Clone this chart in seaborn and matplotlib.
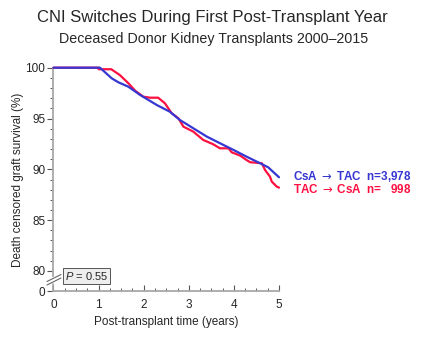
import numpy as np
import pandas as pd
import seaborn as sns
import matplotlib.pyplot as plt
from matplotlib.lines import Line2D

# ---- data ----
t_csa = [0, 1.03, 1.29, 1.44, 1.66, 1.92, 2.29, 2.58, 2.80, 3.10, 3.40, 3.69, 3.99, 4.28, 4.58, 4.76, 5.0]
s_csa = [100, 100, 98.96, 98.56, 98.13, 97.32, 96.33, 95.67, 94.86, 94.04, 93.22, 92.57, 91.91, 91.25, 90.6, 90.2, 89.22]

t_tac = [0, 1.0, 1.0, 1.28, 1.33, 1.47, 1.66, 1.81, 1.99, 2.14, 2.32, 2.47, 2.62, 2.77, 2.88, 3.10, 3.32,
         3.54, 3.69, 3.88, 3.95, 4.14, 4.28, 4.36, 4.62, 4.69, 4.80, 4.84, 4.95, 5.0]
s_tac = [100, 100, 99.85, 99.85, 99.7, 99.28, 98.47, 97.74, 97.15, 97.05, 97.05, 96.5, 95.52, 95.02, 94.2, 93.71, 92.89,
         92.47, 92.07, 92.07, 91.68, 91.35, 90.92, 90.70, 90.6, 89.94, 89.28, 88.79, 88.30, 88.2]

groups = ["CsA \u2192 TAC", "TAC \u2192 CsA"]
group_labels = ["CsA $\\rightarrow$ TAC", "TAC $\\rightarrow$ CsA"]
n_labels = ["n=3,978", "n=   998"]
p_text = "0.55"
x_ticks = [0, 1, 2, 3, 4, 5]
y_ticks = [80, 85, 90, 95, 100]

colors = {"CsA \u2192 TAC": "#3636d2", "TAC \u2192 CsA": "#ff1040"}

df = pd.concat([
    pd.DataFrame({"time": t_csa, "surv": s_csa, "group": groups[0]}),
    pd.DataFrame({"time": t_tac, "surv": s_tac, "group": groups[1]}),
], ignore_index=True)

sns.set_style("ticks")
plt.rcParams["font.family"] = ["Liberation Sans", "DejaVu Sans"]
plt.rcParams["mathtext.fontset"] = "custom"
plt.rcParams["mathtext.rm"] = "DejaVu Sans"
plt.rcParams["mathtext.it"] = "Liberation Sans:italic"
plt.rcParams["mathtext.bf"] = "DejaVu Sans"
plt.rcParams["mathtext.fallback"] = "cm"

fig = plt.figure(figsize=(4.27, 3.37), dpi=100)
W, H = 427, 337
x0, x1, ytop, ybot = 53.5, 279, 67.7, 291
ax = fig.add_axes([x0 / W, 1 - ybot / H, (x1 - x0) / W, (ybot - ytop) / H])

ymin = 78.03
for g in groups:
    sub = df[df.group == g]
    sns.lineplot(data=sub, x="time", y="surv", ax=ax, color=colors[g], lw=1.6,
                 sort=False, estimator=None, legend=False, clip_on=False, zorder=3 if g == groups[1] else 4)

ax.set_xlim(0, 5)
ax.set_ylim(ymin, 100)
ax.set_xticks(x_ticks)
ax.set_xticks(np.arange(0, 5.01, 0.25), minor=True)
ax.set_yticks([ymin] + y_ticks)
ax.set_yticklabels(["0"] + [str(v) for v in y_ticks])
ax.set_yticks(np.arange(80, 100.1, 1), minor=True)

ax.set_xlabel("Post-transplant time (years)", fontsize=8.5, labelpad=3)
ax.set_ylabel("Death censored graft survival (%)", fontsize=8.5, labelpad=1)

spine_c = "#a8a8a8"
for s in ["top", "right"]:
    ax.spines[s].set_visible(False)
for s in ["left", "bottom"]:
    ax.spines[s].set_color(spine_c)
    ax.spines[s].set_linewidth(1.3)
ax.spines["left"].set_bounds(79.55, 100)
# lower stub of the broken y axis
ax.add_line(Line2D([0, 0], [ymin, 78.75], color=spine_c, lw=1.3, clip_on=False))

ax.tick_params(axis="y", which="major", direction="out", length=4, width=0.8, color="#555555",
               labelsize=8.5, pad=2)
ax.tick_params(axis="y", which="minor", direction="out", length=2.5, width=0.7, color="#555555")
ax.tick_params(axis="x", which="major", direction="in", length=4, width=0.8, color="#555555",
               labelsize=8.5, pad=6)
ax.tick_params(axis="x", which="minor", direction="in", length=2.5, width=0.7, color="#555555")
ax.tick_params(axis="y", which="minor", left=True)
ax.tick_params(axis="x", which="minor", bottom=True)

# break marks
def ax_pt(px, py):
    return ((px - x0) / (x1 - x0), (ybot - py) / (ybot - ytop))
for dy in (0, 3.5):
    a = ax_pt(47, 281.5 + dy)
    b = ax_pt(61, 274.5 + dy)
    ax.add_line(Line2D([a[0], b[0]], [a[1], b[1]], transform=ax.transAxes, color="#666666",
                       lw=0.8, clip_on=False))

# P value box
ax.text(0.735, 79.52, r"$P$" + " = " + p_text, fontsize=8, ha="center", va="center",
        bbox=dict(boxstyle="square,pad=0.2", fc="#eeeeee", ec="#555555", lw=0.7), zorder=6)
ax.text(0.755, 79.40, r"$P$" + " = " + p_text, fontsize=8, ha="center", va="center", color="none",
        bbox=dict(boxstyle="square,pad=0.2", fc="#b0b0b0", ec="none"), zorder=5)

# right-side labels
ax.text(5.3, 89.3, group_labels[0] + "  " + n_labels[0], color=colors[groups[0]], fontsize=8.4,
        fontweight="bold", ha="left", va="center", clip_on=False)
ax.text(5.3, 88.0, group_labels[1] + "  " + n_labels[1], color=colors[groups[1]], fontsize=8.4,
        fontweight="bold", ha="left", va="center", clip_on=False)

fig.text(212.5 / W, 1 - 17.5 / H, "CNI Switches During First Post-Transplant Year", fontsize=12,
         ha="center", va="center")
fig.text(213.5 / W, 1 - 39.5 / H, "Deceased Donor Kidney Transplants 2000\u20132015", fontsize=10.3,
         ha="center", va="center")

fig.savefig("out.png", dpi=100)
